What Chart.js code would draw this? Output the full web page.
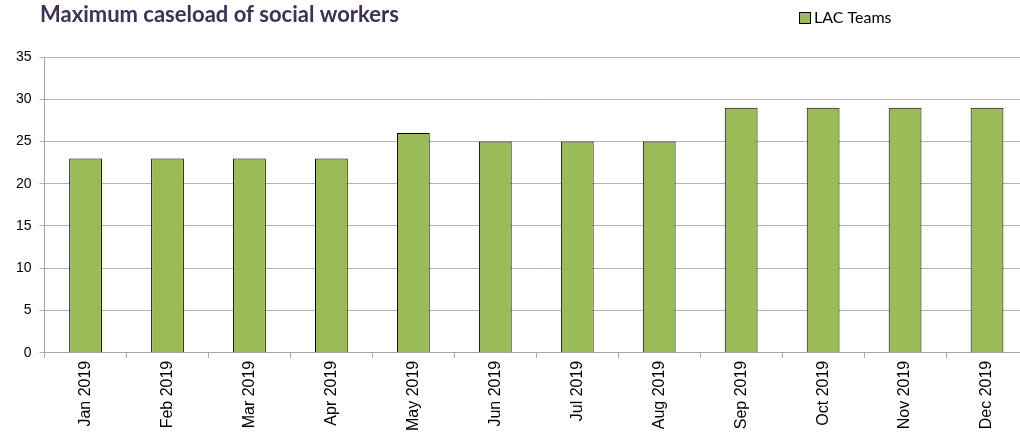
<!DOCTYPE html>
<html>
<head>
<meta charset="utf-8">
<script src="https://cdn.jsdelivr.net/npm/chart.js@4"></script>
<style>
  html, body { margin: 0; padding: 0; background: #fff; overflow: hidden; }
  #wrap { position: relative; width: 1028px; height: 434px; }
</style>
</head>
<body>
<div id="wrap"><canvas id="caseload"></canvas></div>
<script>
const months = ['Jan 2019', 'Feb 2019', 'Mar 2019', 'Apr 2019', 'May 2019', 'Jun 2019',
                'Jul 2019', 'Aug 2019', 'Sep 2019', 'Oct 2019', 'Nov 2019', 'Dec 2019'];
const lacTeams = [23, 23, 23, 23, 26, 25, 25, 25, 29, 29, 29, 29];
const chartTitle = 'Maximum caseload of social workers';

// heading top-left and a single legend key on the same line
const headerPlugin = {
  id: 'header',
  afterDraw(chart) {
    const ctx = chart.ctx;
    const ds = chart.data.datasets[0];
    ctx.save();
    ctx.textBaseline = 'middle';
    ctx.textAlign = 'left';
    ctx.font = 'bold 22px Lato, "Open Sans", sans-serif';
    ctx.fillStyle = '#403152';
    ctx.fillText(chartTitle, 40, 15);

    ctx.fillStyle = ds.backgroundColor;
    ctx.fillRect(799.5, 12.5, 11, 11);
    ctx.strokeStyle = '#000';
    ctx.lineWidth = 1;
    ctx.strokeRect(799.5, 12.5, 11, 11);
    ctx.font = '16px Lato, "Open Sans", sans-serif';
    ctx.fillStyle = '#000';
    ctx.fillText(ds.label, 814, 18);
    ctx.restore();
  }
};

new Chart(document.getElementById('caseload'), {
  type: 'bar',
  data: {
    labels: months,
    datasets: [{
      label: 'LAC Teams',
      data: lacTeams,
      backgroundColor: '#9bbb59',
      borderColor: '#000',
      borderWidth: 1,
      barPercentage: 0.40,
      categoryPercentage: 1.0
    }]
  },
  options: {
    responsive: true,
    maintainAspectRatio: false,
    animation: false,
    layout: { padding: { top: 57, left: 8, right: 0, bottom: 0 } },
    plugins: {
      legend: { display: false },
      tooltip: { enabled: false }
    },
    scales: {
      x: {
        grid: { drawOnChartArea: false, drawTicks: true, tickLength: 5, color: '#a6a6a6', offset: true },
        border: { color: '#a6a6a6' },
        ticks: {
          color: '#000',
          maxRotation: 90,
          minRotation: 90,
          padding: 3,
          font: { family: '"Liberation Sans", Arial, sans-serif', size: 16 }
        }
      },
      y: {
        min: 0,
        max: 35,
        ticks: {
          stepSize: 5,
          color: '#000',
          padding: 8,
          font: { family: '"Liberation Sans", Arial, sans-serif', size: 14 }
        },
        grid: { color: '#b3b3b3', tickLength: 5 },
        border: { color: '#a6a6a6' }
      }
    }
  },
  plugins: [headerPlugin]
});
</script>
</body>
</html>
